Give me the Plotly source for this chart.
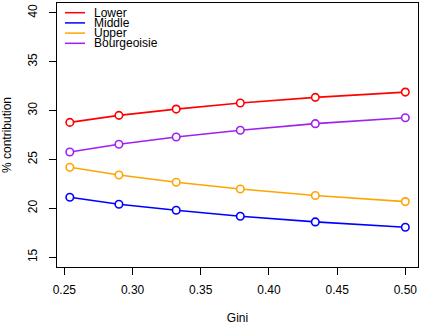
import plotly.graph_objects as go

gini = [0.254, 0.290, 0.332, 0.379, 0.434, 0.500]
lower = [28.79, 29.51, 30.15, 30.77, 31.35, 31.89]
middle = [21.13, 20.42, 19.81, 19.19, 18.61, 18.07]
upper = [24.20, 23.41, 22.67, 21.98, 21.31, 20.69]
bourgeoisie = [25.76, 26.55, 27.30, 27.98, 28.66, 29.27]

series_names = ["Lower", "Middle", "Upper", "Bourgeoisie"]
series_vals = [lower, middle, upper, bourgeoisie]
colors = ["#FF0000", "#0000FF", "#FFA500", "#A020F0"]

x_ticks = [0.25, 0.30, 0.35, 0.40, 0.45, 0.50]
y_ticks = [15, 20, 25, 30, 35, 40]

FONT = "Liberation Sans, Arial, sans-serif"

fig = go.Figure()
for name, vals, c in zip(series_names, series_vals, colors):
    fig.add_trace(go.Scatter(
        x=gini, y=vals, mode="lines+markers", name=name, showlegend=False,
        line=dict(color=c, width=1.6),
        marker=dict(symbol="circle", size=7.5, color="white",
                    line=dict(color=c, width=1.6)),
    ))

# legend drawn as layout decoration
for i, (name, c) in enumerate(zip(series_names, colors)):
    ypix = 12.7 + i * 10.2
    yp = 1 - (ypix - 3) / 264
    fig.add_shape(type="line", xref="paper", yref="paper",
                  x0=(65 - 57) / 361, x1=(85 - 57) / 361,
                  y0=yp, y1=yp, line=dict(color=c, width=1.5))
    fig.add_annotation(text=name, xref="paper", yref="paper",
                       x=(93 - 57) / 361, y=yp,
                       xanchor="left", yanchor="middle", showarrow=False,
                       borderpad=0,
                       font=dict(size=12, color="black", family=FONT))

fig.update_layout(
    width=431, height=331,
    margin=dict(l=57, r=13, t=3, b=64),
    plot_bgcolor="white", paper_bgcolor="white",
    font=dict(family=FONT, size=12, color="black"),
    xaxis=dict(range=[0.2446, 0.5093], tickvals=x_ticks,
               ticktext=[f"{v:.2f}" for v in x_ticks],
               showgrid=False, zeroline=False, showline=True, mirror=True,
               linecolor="black", linewidth=1, ticks="outside", ticklen=7,
               tickcolor="black", automargin=False, ticklabelstandoff=5,
               title=dict(text="Gini", standoff=17, font=dict(size=12))),
    yaxis=dict(range=[14, 41], tickvals=y_ticks,
               ticktext=[str(v) for v in y_ticks], tickangle=-90,
               showgrid=False, zeroline=False, showline=True, mirror=True,
               linecolor="black", linewidth=1, ticks="outside", ticklen=7,
               tickcolor="black", automargin=False, ticklabelstandoff=7,
               title=dict(text="% contribution", standoff=13, font=dict(size=12))),
)

fig.write_html("out.html", config={"displayModeBar": False},
               post_script="document.body.style.margin='0';")
